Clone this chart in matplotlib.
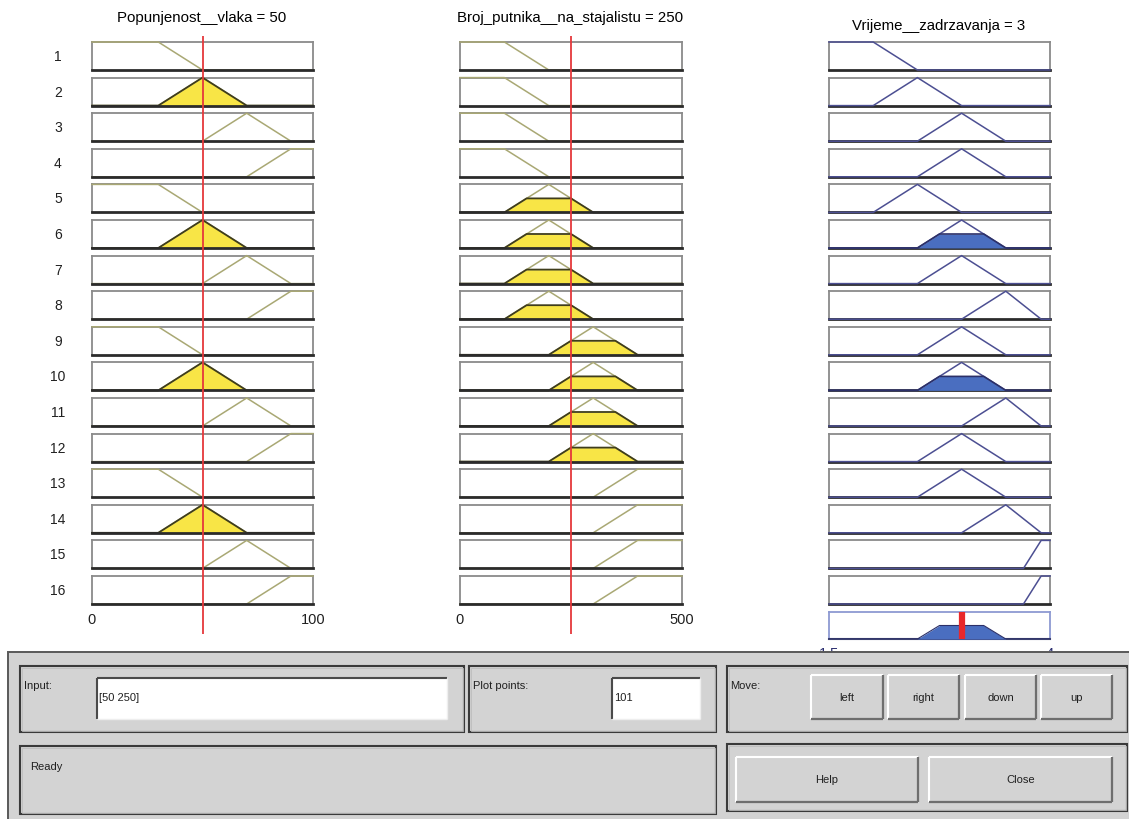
import numpy as np
import matplotlib
matplotlib.use("Agg")
import matplotlib.pyplot as plt
from matplotlib.patches import Rectangle
from matplotlib import font_manager

# ---------------------------------------------------------------------------
# Fuzzy inference system: Mamdani rule viewer
# ---------------------------------------------------------------------------
input_names = ["Popunjenost__vlaka", "Broj_putnika__na_stajalistu"]
input_ranges = [(0, 100), (0, 500)]
input_values = [50, 250]

output_name = "Vrijeme__zadrzavanja"
output_range = (1.5, 4)
plot_points = 101

# membership functions: (type, params)
popunjenost_mfs = [
    ("trapmf", [0, 0, 30, 50]),
    ("trimf", [30, 50, 70]),
    ("trimf", [50, 70, 90]),
    ("trapmf", [70, 90, 100, 100]),
]
putnici_mfs = [
    ("trapmf", [0, 0, 100, 200]),
    ("trimf", [100, 200, 300]),
    ("trimf", [200, 300, 400]),
    ("trapmf", [300, 400, 500, 500]),
]
vrijeme_mfs = [
    ("trapmf", [1.5, 1.5, 2.0, 2.5]),
    ("trimf", [2.0, 2.5, 3.0]),
    ("trimf", [2.5, 3.0, 3.5]),
    ("trimf", [3.0, 3.5, 3.9]),
    ("trapmf", [3.7, 3.9, 4.0, 4.0]),
]

# rule base (indices into the membership function lists above)
rule_in1 = [0, 1, 2, 3, 0, 1, 2, 3, 0, 1, 2, 3, 0, 1, 2, 3]
rule_in2 = [0, 0, 0, 0, 1, 1, 1, 1, 2, 2, 2, 2, 3, 3, 3, 3]
rule_out = [0, 1, 2, 2, 1, 2, 2, 3, 2, 2, 3, 2, 2, 3, 4, 4]

# ---------------------------------------------------------------------------
W, H = 1129, 820
fig = plt.figure(figsize=(W / 100, H / 100), dpi=100)
fig.patch.set_facecolor("white")

names = {f.name for f in font_manager.fontManager.ttflist}
BASE = "Liberation Sans" if "Liberation Sans" in names else "DejaVu Sans"
NARROW = "Liberation Sans Narrow" if "Liberation Sans Narrow" in names else BASE
plt.rcParams["font.family"] = [BASE, "DejaVu Sans"]


def mf_eval(x, kind, p):
    if kind == "trimf":
        a, b, c, d = p[0], p[1], p[1], p[2]
    else:
        a, b, c, d = p
    y = np.ones_like(x, dtype=float)
    if b > a:
        y = np.minimum(y, (x - a) / (b - a))
    else:
        y = np.where(x < a, 0.0, y)
    if d > c:
        y = np.minimum(y, (d - x) / (d - c))
    else:
        y = np.where(x > d, 0.0, y)
    return np.clip(y, 0.0, 1.0)


def px_axes(x0, y0, x1, y1, **kw):
    return fig.add_axes([x0 / W, 1 - y1 / H, (x1 - x0) / W, (y1 - y0) / H], **kw)


def style_panel(ax, rng, edge="#8a8a8a", bottom="#2b2b2b", bottom_z=2.5):
    ax.set_xlim(*rng)
    ax.set_ylim(0, 1)
    ax.set_xticks([])
    ax.set_yticks([])
    for s in ("top", "left", "right"):
        ax.spines[s].set_color(edge)
        ax.spines[s].set_linewidth(1.3)
        ax.spines[s].set_zorder(2.5)
    ax.spines["bottom"].set_color(bottom)
    ax.spines["bottom"].set_linewidth(2.0)
    ax.spines["bottom"].set_zorder(bottom_z)


col_x = [(92, 313), (460, 682), (829, 1050)]
row_top0, row_step, row_h = 43, 35.6, 28

IN_LINE, IN_FILL, IN_EDGE = "#a9a874", "#f8e546", "#3f3d1c"
OUT_LINE, OUT_FILL, OUT_EDGE = "#4c4f92", "#4a6ec0", "#2c3068"
RED = "#e5383b"

in_mfs = [popunjenost_mfs, putnici_mfs]
rule_in = [rule_in1, rule_in2]

xo = np.linspace(output_range[0], output_range[1], plot_points)
aggregate = np.zeros_like(xo)

for r in range(16):
    top = row_top0 + r * row_step
    degrees = []
    for k in range(2):
        lo, hi = input_ranges[k]
        x = np.linspace(lo, hi, plot_points)
        kind, p = in_mfs[k][rule_in[k][r]]
        y = mf_eval(x, kind, p)
        deg = float(mf_eval(np.array([input_values[k]]), kind, p)[0])
        degrees.append(deg)
        ax = px_axes(col_x[k][0], top, col_x[k][1], top + row_h)
        style_panel(ax, (lo, hi), bottom_z=6)
        ax.plot(x, y, color=IN_LINE, lw=1.1, clip_on=False, zorder=3)
        if deg > 0:
            yc = np.minimum(y, deg)
            ax.fill_between(x, 0, yc, color=IN_FILL, lw=0, zorder=3.5)
            ax.plot(x, yc, color=IN_EDGE, lw=1.3, clip_on=False, zorder=4)
    firing = min(degrees)

    kind, p = vrijeme_mfs[rule_out[r]]
    yo = mf_eval(xo, kind, p)
    ax = px_axes(col_x[2][0], top, col_x[2][1], top + row_h)
    style_panel(ax, output_range)
    ax.plot(xo, yo, color=OUT_LINE, lw=1.1, clip_on=False, zorder=3)
    if firing > 0:
        yc = np.minimum(yo, firing)
        aggregate = np.maximum(aggregate, yc)
        ax.fill_between(xo, 0, yc, color=OUT_FILL, lw=0, zorder=3.5)
        ax.plot(xo, yc, color=OUT_EDGE, lw=1.2, clip_on=False, zorder=4)

    fig.text(58 / W, 1 - (top + row_h / 2) / H, str(r + 1), ha="center",
             va="center", fontsize=10, color="#202020")

# centroid defuzzification
centroid = float(np.sum(aggregate * xo) / np.sum(aggregate))

# aggregated output panel
ax = px_axes(col_x[2][0], 613, col_x[2][1], 640)
style_panel(ax, output_range, edge="#8d9ad2", bottom="#3c4070")
ax.spines["bottom"].set_linewidth(1.5)
ax.fill_between(xo, 0, aggregate, color=OUT_FILL, lw=0, zorder=3)
ax.plot(xo, aggregate, color=OUT_EDGE, lw=0.8, zorder=4)
ax.axvline(centroid, color="#e8282b", lw=4.5, zorder=5)
for v in output_range:
    ax.text(v, -0.25, f"{v:g}", ha="center", va="top", fontsize=10.5,
            color="#2c2f70", transform=ax.get_xaxis_transform(), clip_on=False)

# input cursor lines and range labels
for k in range(2):
    lo, hi = input_ranges[k]
    ov = px_axes(col_x[k][0], 37, col_x[k][1], 635)
    ov.set_xlim(lo, hi)
    ov.set_ylim(0, 1)
    ov.axis("off")
    ov.patch.set_alpha(0)
    ov.axvline(input_values[k], color=RED, lw=1.3)
    for v in (lo, hi):
        ov.text(v, 0.025, f"{v:g}", ha="center", va="center", fontsize=10.5,
                color="#202020")

# column titles
fig.text(202 / W, 1 - 18 / H, f"{input_names[0]} = {input_values[0]:g}",
         ha="center", va="center", fontsize=10.8)
fig.text(570 / W, 1 - 18 / H, f"{input_names[1]} = {input_values[1]:g}",
         ha="center", va="center", fontsize=10.8)
fig.text(939 / W, 1 - 26 / H, f"{output_name} = {centroid:.3g}",
         ha="center", va="center", fontsize=10.8)

# ---------------------------------------------------------------------------
# control panel
# ---------------------------------------------------------------------------
gui = fig.add_axes([0, 0, 1, 1])
gui.set_xlim(0, W)
gui.set_ylim(H, 0)
gui.axis("off")
gui.patch.set_alpha(0)

PANEL = "#d3d3d3"
PX = 0.72


def hline(x0, x1, y, c, w=1.0):
    gui.plot([x0, x1], [y, y], color=c, lw=w * PX * 1.4, solid_capstyle="butt")


def vline(x, y0, y1, c, w=1.0):
    gui.plot([x, x], [y0, y1], color=c, lw=w * PX * 1.4, solid_capstyle="butt")


def frame(x0, y0, x1, y1):
    gui.add_patch(Rectangle((x0, y0), x1 - x0, y1 - y0, facecolor="none",
                            edgecolor="#3a3a3a", lw=1.5 * PX * 1.4))
    gui.add_patch(Rectangle((x0 + 1.5, y0 + 1.5), x1 - x0 - 3, y1 - y0 - 3,
                            facecolor="none", edgecolor="#bdbdbd", lw=0.6))


def button(x0, y0, x1, y1, label):
    gui.add_patch(Rectangle((x0, y0), x1 - x0, y1 - y0, facecolor=PANEL,
                            edgecolor="none"))
    hline(x0, x1, y0, "white", 1.5)
    vline(x0, y0, y1, "white", 1.5)
    hline(x0, x1, y1, "#6e6e6e", 1.6)
    vline(x1, y0, y1, "#6e6e6e", 1.6)
    gui.text((x0 + x1) / 2, (y0 + y1) / 2, label, ha="center", va="center",
             fontsize=8, family=[NARROW, "DejaVu Sans"], color="#202020")


def editbox(x0, y0, x1, y1, txt):
    gui.add_patch(Rectangle((x0, y0), x1 - x0, y1 - y0, facecolor="white",
                            edgecolor="none"))
    hline(x0, x1, y0, "#4a4a4a", 1.5)
    vline(x0, y0, y1, "#4a4a4a", 1.5)
    hline(x0, x1, y1, "#eeeeee", 1.0)
    vline(x1, y0, y1, "#eeeeee", 1.0)
    gui.text(x0 + 2, (y0 + y1) / 2 - 1, txt, ha="left", va="center",
             fontsize=8, family=[NARROW, "DejaVu Sans"], color="#202020")


def label(x, y, txt):
    gui.text(x, y, txt, ha="left", va="center", fontsize=8,
             family=[NARROW, "DejaVu Sans"], color="#202020")


gui.add_patch(Rectangle((8, 653), W, H, facecolor=PANEL, edgecolor="#5a5a5a",
                        lw=1.4 * PX * 1.4))

frame(20, 667, 464, 733)
frame(469, 667, 716, 733)
frame(727, 667, 1127, 733)
frame(20, 747, 716, 815)
frame(727, 745, 1127, 812)

label(24, 686, "Input:")
label(473, 686, "Plot points:")
label(730, 686, "Move:")
label(30, 767, "Ready")

input_text = "[" + " ".join(f"{v:g}" for v in input_values) + "]"
editbox(97, 679, 447, 720, input_text)
editbox(612, 679, 700, 720, str(plot_points))

for (x0, x1), txt in zip([(811, 883), (888, 959), (965, 1036), (1041, 1112)],
                         ["left", "right", "down", "up"]):
    button(x0, 676, x1, 720, txt)
button(736, 758, 918, 803, "Help")
button(929, 758, 1112, 803, "Close")

fig.savefig("out.png", dpi=100, facecolor=fig.get_facecolor())
